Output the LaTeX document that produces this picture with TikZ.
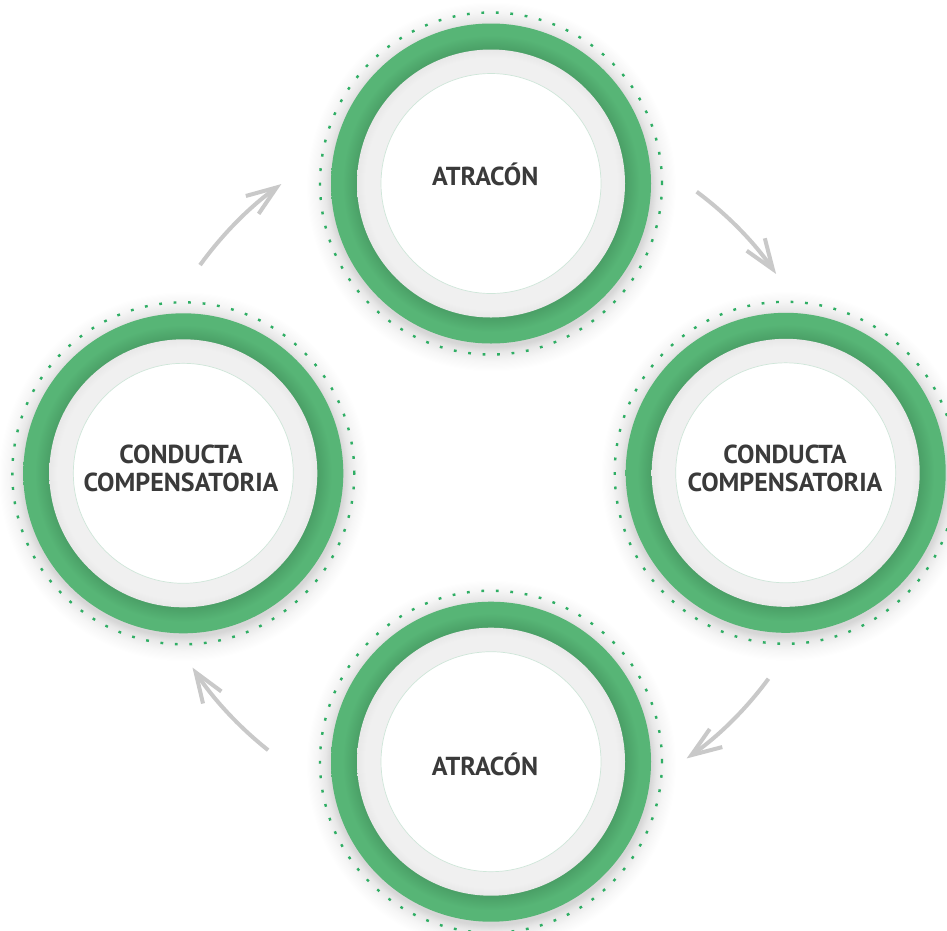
\documentclass[tikz,border=0pt]{standalone}
\usepackage{fontspec}
\setmainfont{PT Sans}
\usetikzlibrary{arrows.meta}

\definecolor{ringgreen}{HTML}{57B576}
\definecolor{ringgreendark}{HTML}{4A9F66}
\definecolor{dotgreen}{HTML}{2FAE64}
\definecolor{innergray}{HTML}{F0F0F0}
\definecolor{innergrayedge}{HTML}{E8E8E8}
\definecolor{discedge}{HTML}{CFE6D9}
\definecolor{arrowgray}{HTML}{C9C9C9}
\definecolor{labelgray}{HTML}{3A3A3A}
\definecolor{halo0}{HTML}{D6D6D6}
\definecolor{halo1}{HTML}{E8E8E8}
\definecolor{halo2}{HTML}{F6F6F6}

% soft shadow around each ring (disc radius 185, ring edge at 160)
\pgfdeclareradialshading{ringhalo}{\pgfpointorigin}{%
  color(0bp)=(halo0); color(21.6bp)=(halo0); color(22.4bp)=(halo1);
  color(23.6bp)=(halo2); color(25bp)=(white); color(50bp)=(white)}
% green band, darker towards its inner edge (disc radius 160, inner edge 134)
\pgfdeclareradialshading{ringband}{\pgfpointorigin}{%
  color(0bp)=(ringgreendark); color(20.9bp)=(ringgreendark);
  color(23.2bp)=(ringgreen); color(25bp)=(ringgreen); color(50bp)=(ringgreen)}
% light gray band (disc radius 134, white disc from 110)
\pgfdeclareradialshading{grayband}{\pgfpointorigin}{%
  color(0bp)=(innergray); color(20.5bp)=(innergray);
  color(23.5bp)=(innergray); color(25bp)=(innergrayedge); color(50bp)=(innergrayedge)}

\tikzset{
  halo/.style={shading=ringhalo},
  band/.style={shading=ringband},
  gband/.style={shading=grayband},
  disc/.style={fill=white, draw=discedge, line width=0.7pt},
  dotring/.style={draw=dotgreen, line width=2.4pt, dash pattern=on 2.8pt off 11.7pt},
  lbl/.style={text=labelgray, inner sep=0pt,
    font=\fontsize{26}{28}\selectfont\bfseries},
  cycarrow/.style={draw=arrowgray, line width=4pt,
    -{Straight Barb[length=30pt,width=22pt]}}
}

\newcommand{\stagering}[1]{%
  \shade[halo] ([yshift=-3]#1) circle[radius=185];
  \shade[band] (#1) circle[radius=160];
  \shade[gband] (#1) circle[radius=134];
  \draw[disc] (#1) circle[radius=110];
  \draw[dotring] (#1) circle[radius=171];
}

\begin{document}
\begin{tikzpicture}[x=1pt, y=1pt]
  \fill[white] (0,0) rectangle (947,-930);
  \useasboundingbox (0,0) rectangle (947,-930);

  % centres of the four stages and of the cycle
  \coordinate (ctop)    at (491,-183.5);
  \coordinate (cright)  at (785.7,-472.8);
  \coordinate (cbottom) at (491,-761.7);
  \coordinate (cleft)   at (183.3,-473.3);
  \coordinate (cycle)   at (488,-472.7);

  \stagering{ctop}
  \stagering{cright}
  \stagering{cbottom}
  \stagering{cleft}

  % labels
  \node[lbl, anchor=base] (ltop) at (485.2,-185.7) {ATRACÓN};
  \node[lbl, anchor=base] (lbottom) at (485,-775) {ATRACÓN};
  \node[lbl, align=center, anchor=north] (lright) at (785,-445)
    {CONDUCTA\\COMPENSATORIA};
  \node[lbl, align=center, anchor=north] (lleft) at (181,-445)
    {CONDUCTA\\COMPENSATORIA};

  % curved arrows running clockwise around the cycle
  \draw[cycarrow] (cycle) ++(144.2:355) arc[start angle=144.2, end angle=125.6, radius=355];
  \draw[cycarrow] (cycle) ++(53.4:350) arc[start angle=53.4, end angle=34.6, radius=350];
  \draw[cycarrow] (cycle) ++(-36.3:348) arc[start angle=-36.3, end angle=-55.2, radius=348];
  \draw[cycarrow] (cycle) ++(231.6:354) arc[start angle=231.6, end angle=213.4, radius=354];
\end{tikzpicture}
\end{document}
